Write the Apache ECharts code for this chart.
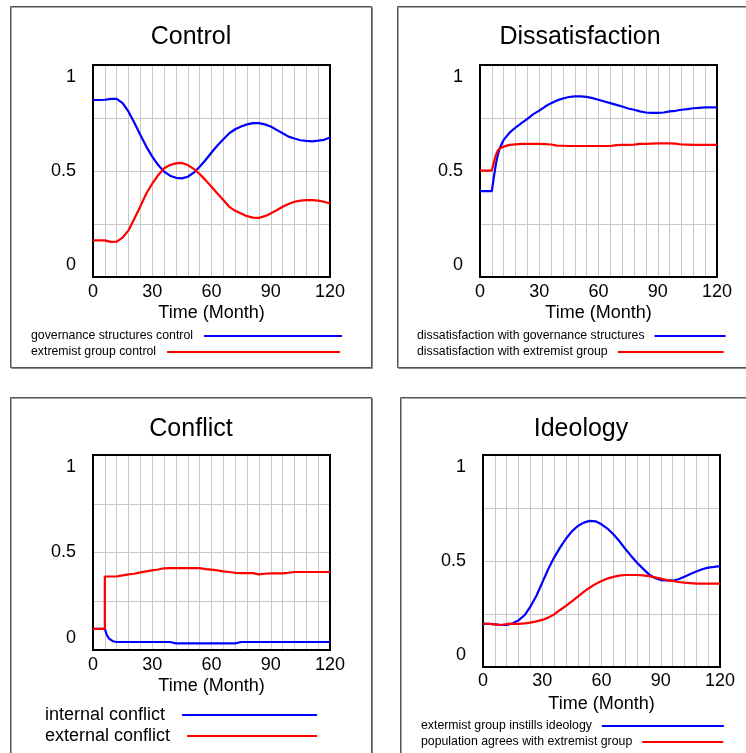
<!DOCTYPE html>
<html>
<head>
<meta charset="utf-8">
<title>Control, Dissatisfaction, Conflict, Ideology</title>
<script src="https://cdn.jsdelivr.net/npm/echarts@6/dist/echarts.min.js"></script>
<style>
  html, body { margin: 0; padding: 0; background: #fff; }
  #chart { width: 746px; height: 753px; }
</style>
</head>
<body>
<div id="chart"></div>
<script>
// time samples (Month)
const monthsStep3 = [0, 3, 6, 9, 12, 15, 18, 21, 24, 27, 30, 33, 36, 39, 42, 45, 48, 51, 54, 57, 60,
  63, 66, 69, 72, 75, 78, 81, 84, 87, 90, 93, 96, 99, 102, 105, 108, 111, 114, 117, 120];
const monthsEarly = [0, 6, 7, 8, 9, 10, 12, 15, 18, 21, 24, 27, 30, 33, 36, 39, 42, 45, 48, 51, 54, 57, 60,
  63, 66, 69, 72, 75, 78, 81, 84, 87, 90, 93, 96, 99, 102, 105, 108, 111, 114, 117, 120];
const monthsJump = [0, 6, 6, 9, 12, 15, 18, 21, 24, 27, 30, 33, 36, 39, 42, 45, 48, 51, 54, 57, 60,
  63, 66, 69, 72, 75, 78, 81, 84, 87, 90, 93, 96, 99, 102, 105, 108, 111, 114, 117, 120];

// Control
const governanceControl = [0.835, 0.835, 0.836, 0.84, 0.84, 0.82, 0.78, 0.726, 0.67, 0.615, 0.568, 0.528, 0.497,
  0.478, 0.468, 0.465, 0.473, 0.492, 0.52, 0.552, 0.587, 0.62, 0.65, 0.678, 0.697, 0.71, 0.72, 0.726, 0.726,
  0.72, 0.71, 0.694, 0.678, 0.662, 0.653, 0.645, 0.642, 0.64, 0.643, 0.647, 0.658];
const extremistControl = [0.173, 0.173, 0.173, 0.166, 0.167, 0.186, 0.22, 0.276, 0.334, 0.394, 0.44, 0.48, 0.513,
  0.528, 0.536, 0.538, 0.528, 0.51, 0.486, 0.457, 0.426, 0.394, 0.363, 0.331, 0.312, 0.30, 0.287, 0.28, 0.279,
  0.287, 0.30, 0.315, 0.331, 0.344, 0.355, 0.36, 0.363, 0.363, 0.36, 0.355, 0.347];

// Dissatisfaction
const dissatGovernance = [0.405, 0.405, 0.47, 0.53, 0.575, 0.607, 0.647, 0.681, 0.705, 0.726, 0.746, 0.768, 0.785,
  0.804, 0.82, 0.833, 0.842, 0.849, 0.852, 0.852, 0.85, 0.844, 0.836, 0.828, 0.82, 0.812, 0.804, 0.795, 0.789,
  0.781, 0.776, 0.774, 0.774, 0.776, 0.781, 0.784, 0.789, 0.792, 0.796, 0.798, 0.80, 0.80, 0.80];
const dissatExtremist = [0.502, 0.502, 0.54, 0.575, 0.596, 0.607, 0.615, 0.623, 0.626, 0.628, 0.628, 0.628, 0.628,
  0.627, 0.625, 0.62, 0.619, 0.618, 0.618, 0.618, 0.618, 0.618, 0.618, 0.618, 0.618, 0.622, 0.623, 0.623, 0.624,
  0.628, 0.628, 0.629, 0.63, 0.63, 0.63, 0.629, 0.625, 0.624, 0.623, 0.623, 0.623, 0.623, 0.623];

// Conflict
const internalConflict = [0.108, 0.108, 0.077, 0.06, 0.05, 0.045, 0.041, 0.041, 0.041, 0.041, 0.041, 0.041, 0.041,
  0.041, 0.041, 0.041, 0.034, 0.034, 0.034, 0.034, 0.034, 0.034, 0.034, 0.034, 0.034, 0.034, 0.034, 0.041, 0.041,
  0.041, 0.041, 0.041, 0.041, 0.041, 0.041, 0.041, 0.041, 0.041, 0.041, 0.041, 0.041, 0.041, 0.041];
const externalConflict = [0.108, 0.108, 0.377, 0.377, 0.377, 0.383, 0.388, 0.391, 0.398, 0.403, 0.408, 0.413, 0.419,
  0.42, 0.42, 0.42, 0.42, 0.42, 0.42, 0.415, 0.412, 0.408, 0.403, 0.40, 0.396, 0.394, 0.394, 0.394, 0.388,
  0.391, 0.393, 0.393, 0.393, 0.396, 0.40, 0.40, 0.40, 0.40, 0.40, 0.40, 0.40];

// Ideology
const instillsIdeology = [0.204, 0.204, 0.201, 0.198, 0.198, 0.206, 0.22, 0.244, 0.285, 0.335, 0.398, 0.461, 0.516,
  0.563, 0.605, 0.64, 0.665, 0.681, 0.689, 0.687, 0.673, 0.653, 0.626, 0.594, 0.558, 0.524, 0.492, 0.464, 0.437,
  0.42, 0.41, 0.409, 0.407, 0.414, 0.426, 0.439, 0.45, 0.461, 0.469, 0.472, 0.476];
const populationAgrees = [0.204, 0.204, 0.201, 0.198, 0.203, 0.203, 0.203, 0.206, 0.209, 0.215, 0.222, 0.233, 0.248,
  0.269, 0.288, 0.31, 0.332, 0.354, 0.374, 0.392, 0.406, 0.417, 0.425, 0.431, 0.434, 0.434, 0.434, 0.432, 0.429,
  0.423, 0.417, 0.41, 0.406, 0.401, 0.398, 0.396, 0.393, 0.393, 0.393, 0.393, 0.393];

const FONT = '"Liberation Sans", Arial, sans-serif';
const BLUE = '#0000ff';
const RED = '#ff0000';

// layout of the four panels
const panels = [
  {
    title: 'Control', titleX: 191, titleY: 25, frame: [10, 6, 361, 361],
    grid: { left: 93, top: 65, width: 237, height: 212 }, labelMargin: 6, nameGap: 27,
    legendFont: 12.3, legendGap: 6,
    lines: [
      { name: 'governance structures control', x: monthsStep3, y: governanceControl, color: BLUE, legend: [31, 330, 138] },
      { name: 'extremist group control', x: monthsStep3, y: extremistControl, color: RED, legend: [31, 346, 173] }
    ]
  },
  {
    title: 'Dissatisfaction', titleX: 580, titleY: 25, frame: [397, 6, 370, 361],
    grid: { left: 480, top: 65, width: 237, height: 212 }, labelMargin: 6, nameGap: 27,
    legendFont: 12.3, legendGap: 5,
    lines: [
      { name: 'dissatisfaction with governance structures', x: monthsEarly, y: dissatGovernance, color: BLUE, legend: [417, 330, 71] },
      { name: 'dissatisfaction with extremist group', x: monthsEarly, y: dissatExtremist, color: RED, legend: [417, 346, 106] }
    ]
  },
  {
    title: 'Conflict', titleX: 191, titleY: 417, frame: [10, 397, 361, 370],
    grid: { left: 93, top: 455, width: 237, height: 195 }, labelMargin: 6, nameGap: 27,
    legendFont: 18, legendGap: 12,
    lines: [
      { name: 'internal conflict', x: monthsEarly, y: internalConflict, color: BLUE, legend: [45, 706, 135] },
      { name: 'external conflict', x: monthsJump, y: externalConflict, color: RED, legend: [45, 727, 130] }
    ]
  },
  {
    title: 'Ideology', titleX: 581, titleY: 417, frame: [400, 397, 370, 370],
    grid: { left: 483, top: 455, width: 237, height: 212 }, labelMargin: 5, nameGap: 28,
    legendFont: 12.3, legendGap: 5,
    lines: [
      { name: 'extermist group instills ideology', x: monthsStep3, y: instillsIdeology, color: BLUE, legend: [421, 720, 122] },
      { name: 'population agrees with extremist group', x: monthsStep3, y: populationAgrees, color: RED, legend: [421, 736, 81] }
    ]
  }
];

const option = {
  backgroundColor: '#fff',
  animation: false,
  textStyle: { fontFamily: FONT },
  title: [], grid: [], xAxis: [], yAxis: [], series: [], legend: [], graphic: []
};

panels.forEach((p, i) => {
  const [fx, fy, fw, fh] = p.frame;
  // panel frame
  option.graphic.push({
    type: 'rect', silent: true, z: -10,
    shape: { x: fx + 0.5, y: fy + 0.5, width: fw, height: fh },
    style: { fill: '#fff', stroke: '#555', lineWidth: 1, shadowColor: 'rgba(0,0,0,0.35)', shadowOffsetX: 1, shadowOffsetY: 1 }
  });

  option.title.push({
    text: p.title, left: p.titleX, top: p.titleY, textAlign: 'center', padding: 0,
    textStyle: { fontFamily: FONT, fontSize: 25, fontWeight: 'normal', color: '#000' }
  });

  // z above split lines so the black frame stays solid
  option.grid.push(Object.assign({ show: true, z: 3, borderColor: '#000', borderWidth: 2, backgroundColor: 'transparent' }, p.grid));

  option.xAxis.push({
    type: 'value', gridIndex: i, min: 0, max: 120, interval: 6,
    name: 'Time (Month)', nameLocation: 'middle', nameGap: p.nameGap,
    nameTextStyle: { fontFamily: FONT, fontSize: 18, color: '#000' },
    axisLine: { show: true, lineStyle: { color: '#000', width: 2 } },
    axisTick: { show: false },
    axisLabel: {
      margin: p.labelMargin, fontFamily: FONT, fontSize: 18, color: '#000',
      formatter: v => (v % 30 === 0 ? String(v) : '')
    },
    splitLine: { show: true, showMinLine: false, showMaxLine: false, lineStyle: { color: '#c8c8c8', width: 1 } }
  });

  option.yAxis.push({
    type: 'value', gridIndex: i, min: 0, max: 1, interval: 0.25,
    axisLine: { show: true, lineStyle: { color: '#000', width: 2 } },
    axisTick: { show: false },
    axisLabel: {
      margin: 17, fontFamily: FONT, fontSize: 18, color: '#000', lineHeight: 24,
      formatter: v => (v === 1 ? '\n1' : v === 0 ? '0\n' : v === 0.5 ? '0.5' : '')
    },
    splitLine: { show: true, showMinLine: false, showMaxLine: false, lineStyle: { color: '#c8c8c8', width: 1 } }
  });

  p.lines.forEach(l => {
    option.series.push({
      name: l.name, type: 'line', xAxisIndex: i, yAxisIndex: i,
      symbol: 'none', smooth: false,
      lineStyle: { color: l.color, width: 2.2 },
      itemStyle: { color: l.color },
      data: l.x.map((t, k) => [t, l.y[k]])
    });
    option.legend.push({
      data: [l.name], left: l.legend[0], top: l.legend[1], padding: 0,
      orient: 'horizontal', align: 'right', selectedMode: false,
      icon: 'rect', itemWidth: l.legend[2], itemHeight: 2,
      textStyle: { fontFamily: FONT, fontSize: p.legendFont, color: '#000', padding: [0, p.legendGap, 0, 0] }
    });
  });
});

const chart = echarts.init(document.getElementById('chart'), null, { renderer: 'canvas' });
chart.setOption(option);
window.addEventListener('resize', () => chart.resize());
</script>
</body>
</html>
